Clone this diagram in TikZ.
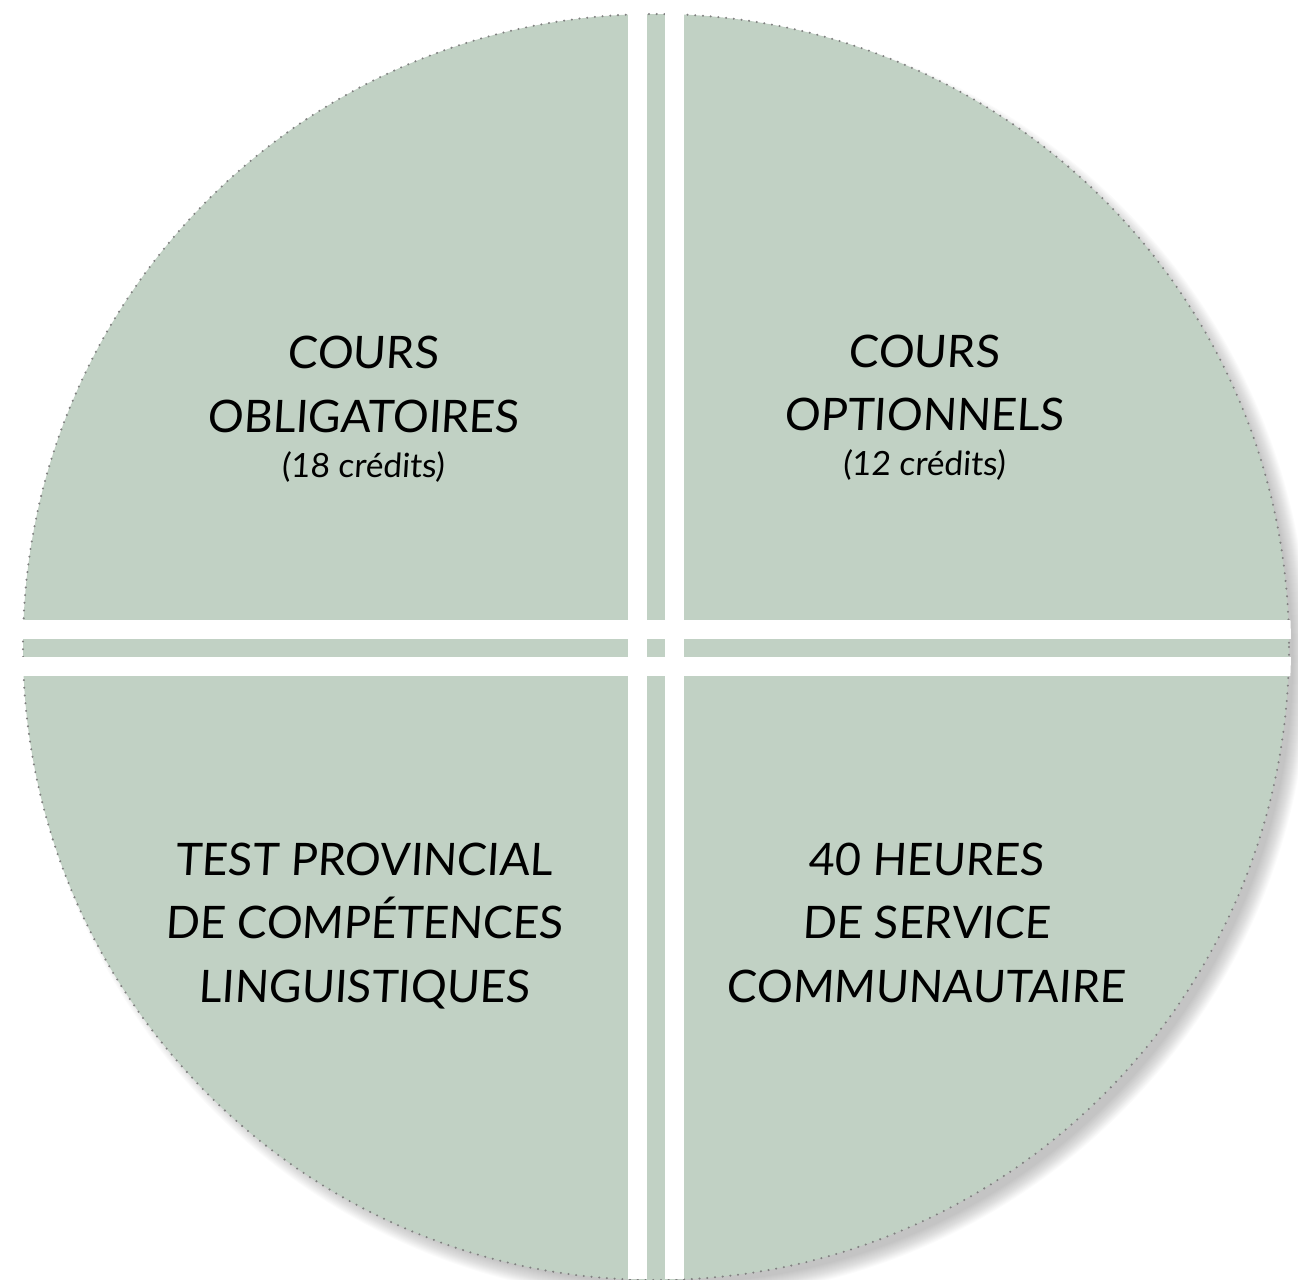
\documentclass[tikz,border=0pt]{standalone}
\usepackage{fontspec}
\setmainfont[FakeSlant=0.06]{Lato}
\definecolor{sage}{HTML}{C1D1C4}
\definecolor{dotgray}{HTML}{7F7F7F}
\tikzset{
  big/.style={anchor=base,inner sep=0pt,font=\fontsize{25.5}{30}\selectfont},
  small/.style={anchor=base,inner sep=0pt,font=\fontsize{19}{22}\selectfont},
  rimdots/.style={draw=dotgray,line width=1.3pt,line cap=round,dash pattern=on 0pt off 4.4pt}
}
\begin{document}
\begin{tikzpicture}[x=0.02cm,y=-0.02cm]
\useasboundingbox (0,0) rectangle (1298,1279);
% shadow
\foreach \r in {625,...,641}{
  \fill[black,opacity=0.016] (668,659) circle[radius=\r];
}
% disc
\fill[sage] (656,647) circle[radius=633];
\draw[rimdots] (656,647) circle[radius=633];
% white bands
\begin{scope}
  \clip (656,647) circle[radius=635];
  \fill[white] (628,0) rectangle (647,1279);
  \fill[white] (665,0) rectangle (684,1279);
  \fill[white] (0,620) rectangle (1298,639);
  \fill[white] (0,657) rectangle (1298,676);
\end{scope}
% texts
\node[big]   (tl1) at (363,368) {COURS};
\node[big]   (tl2) at (363,432) {OBLIGATOIRES};
\node[small] (tl3) at (363,477) {(18 crédits)};
\node[big]   (tr1) at (924,367) {COURS};
\node[big]   (tr2) at (924,430) {OPTIONNELS};
\node[small] (tr3) at (924,475) {(12 crédits)};
\node[big]   (bl1) at (364,875) {TEST PROVINCIAL};
\node[big]   (bl2) at (364,938) {DE COMPÉTENCES};
\node[big]   (bl3) at (364,1002) {LINGUISTIQUES};
\node[big]   (br1) at (926,875) {40 HEURES};
\node[big]   (br2) at (926,938) {DE SERVICE};
\node[big]   (br3) at (926,1002) {COMMUNAUTAIRE};
\end{tikzpicture}
\end{document}
